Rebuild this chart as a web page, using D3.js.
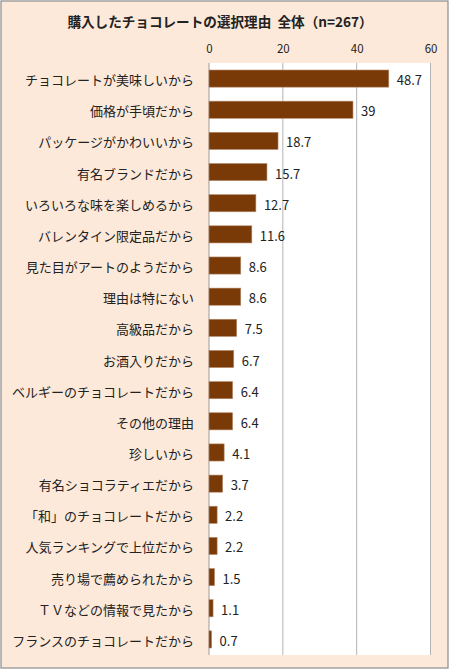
<!DOCTYPE html>
<html>
<head>
<meta charset="utf-8">
<script src="https://cdn.jsdelivr.net/npm/d3@7"></script>
<style>
	body { margin: 0; background: #ffffff; }
	text { font-family: "Noto Sans CJK JP", "Noto Sans", sans-serif; fill: #222222; }
</style>
</head>
<body>
<div id="chart"></div>
<script>
const chart_title = "購入したチョコレートの選択理由  全体（n=267）";

const reasons = [
	"チョコレートが美味しいから",
	"価格が手頃だから",
	"パッケージがかわいいから",
	"有名ブランドだから",
	"いろいろな味を楽しめるから",
	"バレンタイン限定品だから",
	"見た目がアートのようだから",
	"理由は特にない",
	"高級品だから",
	"お酒入りだから",
	"ベルギーのチョコレートだから",
	"その他の理由",
	"珍しいから",
	"有名ショコラティエだから",
	"「和」のチョコレートだから",
	"人気ランキングで上位だから",
	"売り場で薦められたから",
	"ＴＶなどの情報で見たから",
	"フランスのチョコレートだから",
];
const percents = [48.7, 39, 18.7, 15.7, 12.7, 11.6, 8.6, 8.6, 7.5, 6.7, 6.4, 6.4, 4.1, 3.7, 2.2, 2.2, 1.5, 1.1, 0.7];
const tick_values = [0, 20, 40, 60];

const svg_dimensions = { width: 452, height: 670 };
const plot = { left: 209, right: 430.5, top: 63, bottom: 655 };

const svg = d3.select("#chart")
	.append("svg")
		.attr("width", svg_dimensions.width)
		.attr("height", svg_dimensions.height)
		.style("display", "block");

// outer chart frame
svg.append("rect")
	.attr("x", 1)
	.attr("y", 1)
	.attr("width", 447)
	.attr("height", 667)
	.attr("fill", "#fde9d9")
	.attr("stroke", "#8c8c8c")
	.attr("stroke-width", 1.2);

svg.append("text")
	.attr("x", 220)
	.attr("y", 21)
	.attr("text-anchor", "middle")
	.attr("dominant-baseline", "central")
	.attr("font-size", 13.6)
	.attr("font-weight", "bold")
	.style("white-space", "pre")
	.text(chart_title);

const x = d3.scaleLinear()
	.domain([0, 60])
	.range([plot.left, plot.right]);
const y = d3.scaleBand()
	.domain(reasons)
	.range([plot.top, plot.bottom])
	.paddingInner(0.45)
	.paddingOuter(0.225);

// white plot area
svg.append("rect")
	.attr("x", plot.left)
	.attr("y", plot.top)
	.attr("width", plot.right - plot.left)
	.attr("height", plot.bottom - plot.top)
	.attr("fill", "#ffffff");

// gridlines
svg.append("g")
	.selectAll("line")
	.data(tick_values)
	.join("line")
		.attr("x1", d => x(d))
		.attr("x2", d => x(d))
		.attr("y1", plot.top)
		.attr("y2", plot.bottom)
		.attr("stroke", d => d === 0 ? "#9a9a9a" : "#b4b4b4")
		.attr("stroke-width", 1);

// top axis labels
svg.append("g")
	.attr("transform", "translate(0," + 48 + ")")
	.call(d3.axisTop(x).tickValues(tick_values).tickSize(0).tickPadding(0))
	.call(g => g.select(".domain").remove())
	.call(g => g.selectAll("text")
		.attr("font-size", 11.5)
		.attr("dominant-baseline", "central")
		.attr("dy", null)
		.attr("fill", "#222222")
		.style("font-family", "\"Noto Sans CJK JP\", sans-serif"));

// bars
svg.append("g")
	.selectAll("rect")
	.data(percents)
	.join("rect")
		.attr("x", x(0))
		.attr("y", (d, i) => y(reasons[i]))
		.attr("width", d => x(d) - x(0))
		.attr("height", y.bandwidth())
		.attr("fill", "#7a3a08")
		.attr("stroke", "#b58a6a")
		.attr("stroke-width", 0.6);

// value labels
svg.append("g")
	.selectAll("text")
	.data(percents)
	.join("text")
		.attr("x", d => x(d) + 8)
		.attr("y", (d, i) => y(reasons[i]) + y.bandwidth() / 2 + 1)
		.attr("dominant-baseline", "central")
		.attr("font-size", 13)
		.text(d => d);

// category labels
svg.append("g")
	.selectAll("text")
	.data(reasons)
	.join("text")
		.attr("x", 194)
		.attr("y", d => y(d) + y.bandwidth() / 2 + 1)
		.attr("text-anchor", "end")
		.attr("dominant-baseline", "central")
		.attr("font-size", 13)
		.text(d => d);
</script>
</body>
</html>
